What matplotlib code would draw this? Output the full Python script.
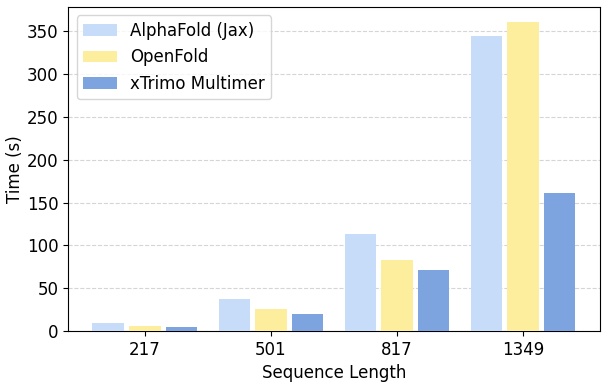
import matplotlib
matplotlib.use("Agg")
import matplotlib.pyplot as plt
import numpy as np

categories = ["217", "501", "817", "1349"]
alphafold = [10, 38, 113, 344]
openfold = [6, 26, 83, 360]
xtrimo = [5, 20, 71, 161]
labels = ["AlphaFold (Jax)", "OpenFold", "xTrimo Multimer"]
colors = ["#c6dcf8", "#fdee9e", "#7ea4e0"]

fig, ax = plt.subplots(figsize=(6.1, 3.86), dpi=100)
x = np.arange(len(categories))
w = 0.25
off = 0.29
for i, (vals, lab, c) in enumerate(zip([alphafold, openfold, xtrimo], labels, colors)):
    ax.bar(x + (i - 1) * off, vals, w, color=c, label=lab, zorder=3)

ax.set_xticks(x)
ax.set_xticklabels(categories, fontsize=12)
ax.tick_params(axis='y', labelsize=12)
ax.set_xlabel("Sequence Length", fontsize=12)
ax.set_ylabel("Time (s)", fontsize=12, labelpad=2)
ax.set_yticks([0, 50, 100, 150, 200, 250, 300, 350])
ax.grid(axis='y', color='#d5d5d5', linestyle='--', linewidth=0.8, zorder=0)
ax.legend(loc='upper left', fontsize=12)
fig.subplots_adjust(left=0.112, right=0.983, top=0.982, bottom=0.142)
fig.savefig("out.png", dpi=100)
